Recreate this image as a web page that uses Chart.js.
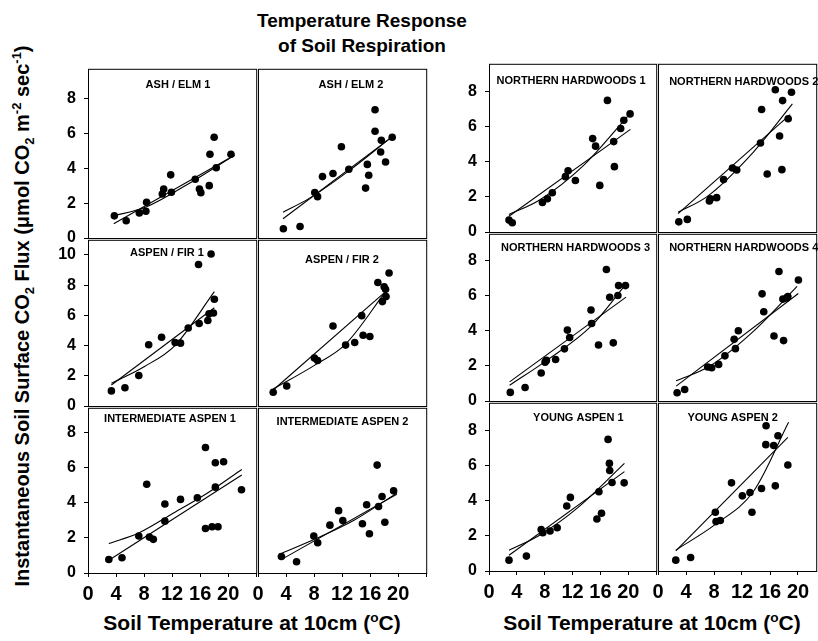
<!DOCTYPE html>
<html>
<head>
<meta charset="utf-8">
<script src="https://cdn.jsdelivr.net/npm/chart.js@4.4.1/dist/chart.umd.min.js"></script>
<style>
  html, body { margin: 0; padding: 0; background: #fff; overflow: hidden; }
  body { width: 818px; height: 641px; position: relative; color: #000;
         font-family: "Liberation Sans", Arial, Helvetica, sans-serif; font-weight: bold; }
  canvas { position: absolute; }
  .lbl { position: absolute; white-space: nowrap; line-height: 1; }
  .lbl sup, .lbl sub { font-size: 0.65em; line-height: 0; }
  #title { left: 362px; top: 8px; transform: translateX(-50%); text-align: center;
           font-size: 19px; line-height: 25px; }
  .xt { top: 612px; font-size: 21px; transform: translateX(-50%); }
  #ytitle { left: 22px; top: 316px; font-size: 20px; transform: translate(-50%, -50%) rotate(-90deg); }
</style>
</head>
<body>
<div id="title" class="lbl">Temperature Response<br>of Soil Respiration</div>
<div class="lbl xt" style="left:252px">Soil Temperature at 10cm (<sup>o</sup>C)</div>
<div class="lbl xt" style="left:652px">Soil Temperature at 10cm (<sup>o</sup>C)</div>
<div id="ytitle" class="lbl">Instantaneous Soil Surface CO<sub>2</sub> Flux (&mu;mol CO<sub>2</sub> m<sup>-2</sup> sec<sup>-1</sup>)</div>
<script>
const panelNames = ['ASH / ELM 1', 'ASH / ELM 2', 'ASPEN / FIR 1', 'ASPEN / FIR 2',
  'INTERMEDIATE ASPEN 1', 'INTERMEDIATE ASPEN 2', 'NORTHERN HARDWOODS 1', 'NORTHERN HARDWOODS 2',
  'NORTHERN HARDWOODS 3', 'NORTHERN HARDWOODS 4', 'YOUNG ASPEN 1', 'YOUNG ASPEN 2'];
const xTickValues = [0, 4, 8, 12, 16, 20, 24];
const yTickValues = [0, 2, 4, 6, 8, 10];

// [soil temp, CO2 flux]; *Lin / *Exp are the two fitted curves
const ashElm1 = [[3.76,1.27],[5.45,0.99],[7.32,1.44],[8.26,1.53],[8.36,2.05],[10.6,2.52],[10.8,2.81],[11.8,3.62],[11.9,2.62],[15.3,3.37],[15.9,2.81],[16.1,2.6],[17.3,3.0],[17.4,4.8],[18.0,5.78],[18.3,4.03],[20.4,4.8]];
const ashElm1Lin = [[3.67,0.82],[20.9,4.74]];
const ashElm1Exp = [[3.34,1.25],[8.2,1.76],[14.3,3.1],[20.9,4.74]];

const ashElm2 = [[3.62,0.53],[6.0,0.66],[8.1,2.61],[8.5,2.37],[9.2,3.52],[10.7,3.7],[11.9,5.23],[12.96,3.94],[15.35,2.86],[15.6,4.22],[15.8,3.6],[16.7,7.35],[16.7,6.12],[17.5,4.93],[17.6,5.6],[18.2,4.36],[19.15,5.78]];
const ashElm2Lin = [[3.57,1.1],[18.8,5.7]];
const ashElm2Exp = [[3.57,1.48],[7.3,2.27],[12.96,3.85],[18.8,5.7]];

const aspenFir1 = [[3.34,1.0],[5.27,1.21],[7.25,2.02],[8.66,4.05],[10.5,4.55],[12.43,4.2],[13.2,4.16],[14.3,5.16],[15.77,9.37],[15.86,5.46],[17.1,5.66],[17.27,6.11],[17.56,10.06],[17.9,6.16],[18.03,7.07]];
const aspenFir1Lin = [[3.34,1.39],[18.03,6.5]];
const aspenFir1Exp = [[3.34,1.5],[8.0,2.6],[12.4,4.0],[18.03,7.57]];

const aspenFir2 = [[2.17,0.91],[4.1,1.32],[8.05,3.17],[8.5,3.01],[10.7,5.29],[12.5,4.03],[13.8,4.2],[14.8,5.98],[15.0,4.68],[15.96,4.6],[17.1,8.17],[17.75,6.91],[18.0,7.89],[18.2,7.72],[18.27,7.24],[18.7,8.8]];
const aspenFir2Lin = [[2.17,1.06],[18.2,7.57]];
const aspenFir2Exp = [[2.17,1.13],[8.05,2.69],[12.5,4.1],[18.2,7.57]];

const intAspen1 = [[2.97,0.77],[4.85,0.87],[7.25,2.11],[8.38,5.07],[8.76,2.05],[9.32,1.92],[10.97,3.94],[10.97,2.96],[13.2,4.2],[15.6,4.29],[16.76,7.16],[16.76,2.54],[17.7,2.64],[18.17,6.29],[18.17,4.9],[18.55,2.64],[19.35,6.35],[21.9,4.75]];
const intAspen1Lin = [[2.97,0.73],[21.94,5.59]];
const intAspen1Exp = [[2.97,1.68],[7.3,2.3],[11.8,3.33],[17.0,4.55],[21.94,5.91]];

const intAspen2 = [[3.34,0.94],[5.5,0.64],[7.96,2.11],[8.52,1.73],[10.26,2.73],[11.5,3.56],[12.1,2.99],[14.9,2.81],[15.5,3.9],[15.9,2.24],[17.0,6.16],[17.2,3.8],[17.7,4.37],[18.1,2.9],[19.35,4.69]];
const intAspen2Lin = [[3.25,0.75],[19.8,4.5]];
const intAspen2Exp = [[3.1,1.07],[8.05,1.92],[13.7,3.01],[19.8,4.56]];

const nh1 = [[2.87,0.68],[3.34,0.53],[7.67,1.68],[8.38,1.9],[9.09,2.24],[10.97,3.16],[11.35,3.5],[12.4,2.94],[14.88,5.33],[15.3,4.9],[15.9,2.66],[17.0,7.51],[17.9,5.16],[18.0,3.73],[18.9,5.91],[19.35,6.38],[20.25,6.74]];
const nh1Lin = [[2.87,0.9],[20.3,5.86]];
const nh1Exp = [[2.87,1.0],[7.2,1.81],[13.7,3.85],[19.9,6.6]];

const nh2 = [[2.97,0.58],[4.19,0.72],[7.34,1.77],[7.49,1.9],[8.38,1.96],[9.37,2.99],[10.64,3.65],[11.25,3.54],[14.64,5.08],[14.8,6.99],[15.6,3.31],[16.76,8.12],[17.37,5.48],[17.7,3.56],[17.8,7.5],[18.6,6.46],[19.07,7.98]];
const nh2Lin = [[2.87,1.05],[18.88,6.7]];
const nh2Exp = [[2.87,1.13],[7.1,2.05],[13.6,4.55],[19.2,7.31]];

const nh3 = [[3.06,0.49],[5.18,0.77],[7.49,1.6],[8.05,2.22],[8.24,2.32],[9.56,2.37],[10.83,2.98],[11.25,4.05],[11.58,3.63],[14.64,5.2],[14.73,4.43],[15.72,3.2],[16.85,7.51],[17.33,5.93],[17.84,3.32],[18.5,6.03],[18.6,6.59],[19.59,6.59]];
const nh3Lin = [[2.96,1.09],[19.67,5.93]];
const nh3Exp = [[2.96,0.9],[8.15,2.28],[14.7,4.29],[19.4,6.55]];

const nh4 = [[2.73,0.47],[3.81,0.66],[7.1,1.94],[7.67,1.9],[8.66,2.09],[9.56,2.58],[10.88,3.52],[11.06,2.99],[11.48,4.01],[14.87,6.12],[15.11,5.1],[16.57,3.71],[17.28,7.4],[17.84,5.82],[17.94,3.45],[18.4,5.89],[18.55,5.97],[20.06,6.91]];
const nh4Lin = [[2.59,0.85],[20.05,6.14]];
const nh4Exp = [[2.59,1.15],[7.34,1.98],[13.7,4.01],[19.87,6.55]];

const youngAspen1 = [[2.87,0.62],[5.37,0.85],[7.49,2.37],[7.72,2.18],[8.76,2.28],[9.79,2.47],[11.16,3.71],[11.68,4.2],[15.49,2.97],[15.78,4.52],[16.15,3.3],[17.09,7.51],[17.28,6.14],[17.33,5.74],[17.66,5.05],[19.4,5.03]];
const youngAspen1Lin = [[2.87,0.9],[19.44,5.67]];
const youngAspen1Exp = [[2.87,1.19],[7.2,2.03],[12.8,3.63],[19.44,6.14]];

const youngAspen2 = [[2.54,0.62],[4.66,0.77],[8.19,3.35],[8.29,2.82],[8.9,2.88],[10.5,5.03],[12.05,4.29],[13.14,4.48],[13.42,3.35],[14.79,4.71],[15.44,8.29],[15.4,7.21],[16.53,7.16],[16.76,4.86],[17.14,7.72],[18.55,6.05]];
const youngAspen2Lin = [[2.54,1.15],[18.55,7.63]];
const youngAspen2Exp = [[2.54,1.19],[8.19,2.66],[13.7,4.58],[18.65,8.49]];

const series = [
  [ashElm1, ashElm1Lin, ashElm1Exp], [ashElm2, ashElm2Lin, ashElm2Exp],
  [aspenFir1, aspenFir1Lin, aspenFir1Exp], [aspenFir2, aspenFir2Lin, aspenFir2Exp],
  [intAspen1, intAspen1Lin, intAspen1Exp], [intAspen2, intAspen2Lin, intAspen2Exp],
  [nh1, nh1Lin, nh1Exp], [nh2, nh2Lin, nh2Exp],
  [nh3, nh3Lin, nh3Exp], [nh4, nh4Lin, nh4Exp],
  [youngAspen1, youngAspen1Lin, youngAspen1Exp], [youngAspen2, youngAspen2Lin, youngAspen2Exp]
];

// layout: [left, width, xMax] per column, [top, height, yMax] per row
const groups = [
  { cols: [[88, 170, 24], [258, 170, 24]], rows: [[67, 171, 9.7], [238, 168, 11], [406, 167, 9.43]] },
  { cols: [[489, 169, 24], [658, 160, 22.6]], rows: [[62, 170, 9.6], [232, 169, 9.55], [401, 170, 9.6]] }
];
// panel name position: offset from panel left, offset from panel top
const namePos = [[90,16],[93,16],[79,13],[84,20],[82,11],[84.5,14],[82,17],[85.7,18.5],[86.5,13.7],[85.7,13.7],[89.3,14.7],[74.7,14.7]];

const FONT = '"Liberation Sans", Arial, Helvetica, sans-serif';
Chart.defaults.font.family = FONT;
Chart.defaults.color = '#000';

const panelFrame = {
  id: 'panelFrame',
  afterDraw(chart, args, opts) {
    const { ctx, chartArea: a } = chart;
    ctx.save();
    ctx.strokeStyle = '#000';
    ctx.lineWidth = 1;
    ctx.strokeRect(a.left + 0.5, a.top + 0.5, a.right - a.left, a.bottom - a.top);
    ctx.fillStyle = '#000';
    ctx.font = 'bold 11px ' + FONT;
    ctx.textAlign = 'center';
    ctx.textBaseline = 'middle';
    ctx.fillText(opts.text, a.left + opts.tx, a.top + opts.ty);
    ctx.restore();
  }
};

function toXY(arr) {
  return arr.map(([x, y]) => ({ x, y }));
}

function makePanel(i) {
  const g = groups[i < 6 ? 0 : 1];
  const k = i % 6, r = Math.floor(k / 2), c = k % 2;
  const [px, pw, xMax] = g.cols[c];
  const [py, ph, yMax] = g.rows[r];
  const showY = c === 0;
  const showX = r === 2;
  const [pts, lin, exp] = series[i];

  const cv = document.createElement('canvas');
  cv.width = pw + 42;
  cv.height = ph + 42;
  cv.style.left = (px - 40) + 'px';
  cv.style.top = (py - 2) + 'px';
  document.body.appendChild(cv);

  new Chart(cv, {
    type: 'scatter',
    data: {
      datasets: [
        { data: toXY(pts), pointRadius: 3.8, pointHoverRadius: 3.8, pointBorderWidth: 0,
          pointBackgroundColor: '#000', pointBorderColor: '#000' },
        { data: toXY(lin), showLine: true, pointRadius: 0, borderColor: '#000', borderWidth: 1.1 },
        { data: toXY(exp), showLine: true, pointRadius: 0, borderColor: '#000', borderWidth: 1.1,
          cubicInterpolationMode: 'monotone' }
      ]
    },
    options: {
      responsive: false,
      animation: false,
      layout: { padding: { left: 0, top: 2, right: 2, bottom: 0 } },
      plugins: {
        legend: { display: false },
        tooltip: { enabled: false },
        panelFrame: { text: panelNames[i], tx: namePos[i][0], ty: namePos[i][1] }
      },
      scales: {
        x: {
          type: 'linear', min: 0, max: xMax,
          border: { display: false },
          grid: { display: showX, drawOnChartArea: false, tickLength: 4, color: '#000' },
          ticks: { display: showX, padding: 5, maxRotation: 0, autoSkip: false,
                   font: { size: 20, weight: 'bold' }, color: '#000',
                   callback: v => (v >= 24 ? '' : v) },
          afterBuildTicks: s => { s.ticks = xTickValues.filter(v => v <= s.max).map(v => ({ value: v })); },
          afterFit: s => { s.height = 40; s.paddingLeft = 0; s.paddingRight = 0; }
        },
        y: {
          type: 'linear', min: 0, max: yMax,
          border: { display: false },
          grid: { display: showY, drawOnChartArea: false, tickLength: 4, color: '#000' },
          ticks: { display: showY, padding: 8, font: { size: 16, weight: 'bold' }, color: '#000' },
          afterBuildTicks: s => { s.ticks = yTickValues.filter(v => v <= s.max).map(v => ({ value: v })); },
          afterFit: s => { s.width = 40; s.paddingTop = 0; s.paddingBottom = 0; }
        }
      }
    },
    plugins: [panelFrame]
  });
}

series.forEach((s, i) => makePanel(i));
</script>
</body>
</html>
